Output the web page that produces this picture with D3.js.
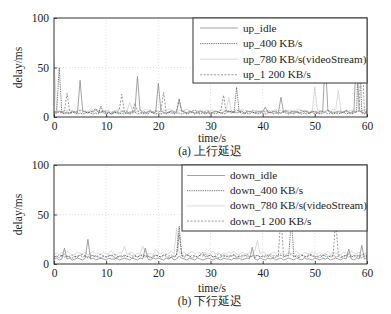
<!DOCTYPE html>
<html>
<head>
<meta charset="utf-8">
<script src="https://cdn.jsdelivr.net/npm/d3@7"></script>
<style>
  body { margin: 0; background: #fff; }
  text { font-family: "Liberation Serif", "Times New Roman", serif; fill: #222; }
</style>
</head>
<body>
<div id="chart"></div>
<script>
// samples every 0.5 s, 0..60 s
const times = d3.range(0, 60.5, 0.5);
const xTicks = [0, 10, 20, 30, 40, 50, 60];
const yTicks = [0, 50, 100];

// (a) uplink delay, ms
const upIdle = [
  5,4,6,5,4,5,4,6,5,4, 37,6,5,4,6,5,7,5,4,6,
  4,5,3,4,5,4,6,5,4,5, 5,6,41,7,5,4,5,6,4,5,
  34,6,5,4,5,6,4,5,17,6, 5,4,6,5,4,5,6,5,4,5,
  4,5,6,5,4,5,7,5,6,5, 4,5,6,4,5,6,5,4,5,6,
  5,10,5,4,6,5,4,20,5,6, 4,5,6,5,4,5,6,5,4,6,
  5,4,6,5,60,6,5,4,5,6, 4,5,6,5,4,5,70,6,5,4,
  5];
const up400 = [
  3,4,50,4,3,4,3,5,4,3, 4,3,4,5,4,3,4,3,11,4,
  3,4,3,5,4,3,4,3,4,3, 4,5,3,4,3,4,3,5,4,3,
  4,3,4,3,5,4,3,4,4,3, 4,3,4,5,3,4,3,4,3,4,
  3,4,3,5,4,3,4,6,5,4, 30,5,4,3,4,3,5,4,3,4,
  4,3,4,5,3,4,3,4,5,4, 3,4,3,5,4,3,4,3,4,5,
  3,4,3,4,5,3,4,3,4,3, 4,5,3,4,3,4,5,80,4,3,
  4];
const up780 = [
  58,7,6,5,7,6,8,6,5,7, 6,7,5,6,8,6,7,6,5,7,
  6,7,5,6,7,8,6,7,6,15, 7,6,5,7,6,8,7,6,5,7,
  6,5,7,6,8,7,6,5,7,6, 7,8,6,5,7,6,7,5,6,7,
  6,7,5,6,7,7,6,20,5,6, 7,6,8,6,7,5,6,7,6,5,
  7,6,5,7,6,8,6,7,5,6, 7,6,5,7,8,6,7,6,5,7,
  30,6,7,5,6,7,6,8,7,27, 6,5,7,6,7,6,5,7,6,8,
  7];
const up1200 = [
  5,6,4,5,6,24,5,4,6,5, 7,5,6,4,5,6,9,5,6,5,
  6,5,4,6,5,7,23,5,6,4, 5,14,6,5,4,6,5,7,5,6,
  5,6,25,5,4,6,5,7,19,5, 6,4,5,6,7,5,4,6,5,6,
  5,4,6,5,7,22,5,6,4,5, 6,7,5,4,6,5,7,5,6,4,
  6,5,7,4,5,6,5,4,6,7, 5,6,4,5,6,7,5,6,4,5,
  6,5,4,6,5,7,5,6,4,5, 6,5,7,4,5,6,5,6,75,5,
  6];

// (b) downlink delay, ms
const downIdle = [
  5,6,4,5,16,5,6,4,5,6, 5,4,6,25,5,6,4,5,6,5,
  4,6,5,5,6,4,5,6,5,4, 6,5,4,6,5,16,5,4,6,5,
  6,5,4,6,5,7,4,5,8,6, 5,4,6,5,4,6,5,4,5,6,
  5,4,6,5,4,6,5,5,4,6, 5,6,4,5,6,5,17,5,4,6,
  5,4,6,5,6,4,5,6,4,5, 6,5,4,6,5,4,6,5,5,4,
  6,5,4,6,5,6,4,5,6,5, 4,6,5,15,5,4,6,5,19,5,
  6];
const down400 = [
  7,8,6,9,7,8,7,6,8,7, 9,7,8,6,7,9,8,7,6,8,
  7,8,9,7,6,8,7,9,8,7, 6,8,7,9,8,7,8,6,7,9,
  8,7,9,8,6,7,8,9,38,8, 7,9,8,6,8,7,9,12,7,8,
  9,7,8,6,7,9,8,7,8,9, 6,8,7,9,8,7,8,6,9,7,
  8,7,9,8,6,7,8,9,7,8, 9,45,7,8,6,9,8,7,9,8,
  7,8,6,9,8,7,8,9,7,8, 6,8,9,7,8,7,9,8,6,8,
  7];
const down780 = [
  10,11,9,12,10,13,11,9,10,12, 11,10,12,9,11,13,10,11,9,12,
  10,11,13,10,9,12,11,18,10,11, 12,9,11,10,18,12,10,11,9,15,
  11,10,12,9,11,13,10,36,11,10, 12,9,11,13,10,12,11,9,12,10,
  11,13,10,12,9,11,10,12,11,13, 10,9,12,11,10,12,11,13,24,10,
  12,11,9,10,12,11,13,10,11,9, 12,10,11,13,10,9,12,11,10,12,
  11,10,12,9,11,13,10,12,11,10, 9,12,11,10,13,11,10,12,9,11,
  10];
const down1200 = [
  8,7,9,8,10,7,8,9,7,8, 9,10,8,7,9,8,7,9,10,8,
  7,9,8,10,8,7,9,8,7,10, 8,9,7,8,10,8,9,7,8,9,
  8,7,9,10,8,9,7,8,30,9, 8,10,7,9,8,7,9,8,10,8,
  9,7,8,10,9,8,7,9,8,10, 7,8,9,8,10,7,9,8,9,7,
  8,9,7,10,8,9,8,50,7,9, 8,10,7,9,8,9,7,8,10,9,
  8,7,9,8,10,9,7,8,45,9, 8,7,9,10,8,9,7,8,9,10,
  8];

const upNames = ["up_idle", "up_400 KB/s", "up_780 KB/s(videoStream)", "up_1 200 KB/s"];
const downNames = ["down_idle", "down_400 KB/s", "down_780 KB/s(videoStream)", "down_1 200 KB/s"];

const styles = [
  { color: "#8c8c8c", dash: null },
  { color: "#3a3a3a", dash: "0.9,0.9" },
  { color: "#d0d0d0", dash: null },
  { color: "#808080", dash: "2,1.5" },
];

const W = 391, H = 314;
const svg = d3.select("#chart").append("svg").attr("width", W).attr("height", H);

const x = d3.scaleLinear().domain([0, 60]).range([54, 367]);
const FS = 11.5;

function panel(cfg) {
  const y = d3.scaleLinear().domain([0, 100]).range([cfg.bottom, cfg.top]);
  const g = svg.append("g");
  const id = "clip" + cfg.top;
  g.append("clipPath").attr("id", id).append("rect")
    .attr("x", x(0)).attr("y", y(100)).attr("width", x(60) - x(0)).attr("height", y(0) - y(100));

  // grid
  g.append("g").selectAll("line").data(xTicks.slice(1, -1)).join("line")
    .attr("x1", d => x(d)).attr("x2", d => x(d)).attr("y1", y(0)).attr("y2", y(100))
    .attr("stroke", "#d8d8d8").attr("stroke-dasharray", "1,2").attr("stroke-width", 0.8);
  g.append("g").selectAll("line").data(yTicks.slice(1, -1)).join("line")
    .attr("x1", x(0)).attr("x2", x(60)).attr("y1", d => y(d)).attr("y2", d => y(d))
    .attr("stroke", "#d8d8d8").attr("stroke-dasharray", "1,2").attr("stroke-width", 0.8);

  // series (light ones first so dark ones stay on top)
  const line = d3.line().x((d, i) => x(times[i])).y(d => y(d));
  [2, 0, 3, 1].forEach(k => {
    g.append("path").datum(cfg.series[k])
      .attr("clip-path", `url(#${id})`)
      .attr("d", line).attr("fill", "none")
      .attr("stroke", styles[k].color).attr("stroke-width", 0.8)
      .attr("stroke-dasharray", styles[k].dash);
  });

  // axes (ticks inward)
  g.append("g").attr("transform", `translate(0,${y(0)})`)
    .call(d3.axisBottom(x).tickValues(xTicks).tickSizeInner(-3).tickSizeOuter(0).tickPadding(cfg.tickPad))
    .call(a => a.select(".domain").remove())
    .call(a => a.selectAll("line").attr("stroke", "#444"))
    .call(a => a.selectAll("text").attr("font-size", FS).attr("font-family", "Liberation Serif").attr("fill", "#222"));
  g.append("g").attr("transform", `translate(${x(0)},0)`)
    .call(d3.axisLeft(y).tickValues(yTicks).tickSizeInner(-3).tickSizeOuter(0).tickPadding(5))
    .call(a => a.select(".domain").remove())
    .call(a => a.selectAll("line").attr("stroke", "#444"))
    .call(a => a.selectAll("text").attr("font-size", FS).attr("font-family", "Liberation Serif").attr("fill", "#222"));

  // frame
  g.append("rect").attr("x", x(0)).attr("y", y(100))
    .attr("width", x(60) - x(0)).attr("height", y(0) - y(100))
    .attr("fill", "none").attr("stroke", "#333").attr("stroke-width", 1);

  // legend
  const L = cfg.legend;
  g.append("rect").attr("x", L.x).attr("y", y(100)).attr("width", x(60) - L.x).attr("height", L.h)
    .attr("fill", "#fff").attr("stroke", "#333").attr("stroke-width", 1);
  cfg.names.forEach((n, k) => {
    const ly = y(100) + L.first + k * L.step;
    g.append("line").attr("x1", L.x + L.l0).attr("x2", L.x + L.l1).attr("y1", ly).attr("y2", ly)
      .attr("stroke", styles[k].color).attr("stroke-width", 0.8).attr("stroke-dasharray", styles[k].dash);
    g.append("text").attr("x", L.x + L.tx).attr("y", ly + 3.5).attr("font-size", 11.2).text(n);
  });

  // labels
  g.append("text").attr("transform", `translate(22,${(y(0) + y(100)) / 2}) rotate(-90)`)
    .attr("text-anchor", "middle").attr("font-size", FS).text("delay/ms");
  g.append("text").attr("x", 212).attr("y", y(0) + cfg.titleDy).attr("text-anchor", "middle")
    .attr("font-size", FS).text("time/s");
  g.append("text").attr("x", 210).attr("y", y(0) + cfg.capDy).attr("text-anchor", "middle")
    .attr("font-size", FS).attr("font-family", "'Liberation Serif', 'Noto Sans CJK SC'").text(cfg.caption);
}

panel({
  top: 18, bottom: 117, series: [upIdle, up400, up780, up1200], names: upNames,
  legend: { x: 193, h: 65, first: 10, step: 15.6, l0: 7, l1: 45, tx: 50 },
  tickPad: 5, titleDy: 25, capDy: 38,
  caption: "(a) 上行延迟",
});
panel({
  top: 165, bottom: 264, series: [downIdle, down400, down780, down1200], names: downNames,
  legend: { x: 182, h: 66, first: 10.5, step: 15.2, l0: 5, l1: 43, tx: 48 },
  tickPad: 4.5, titleDy: 27.5, capDy: 41,
  caption: "(b) 下行延迟",
});
</script>
</body>
</html>
